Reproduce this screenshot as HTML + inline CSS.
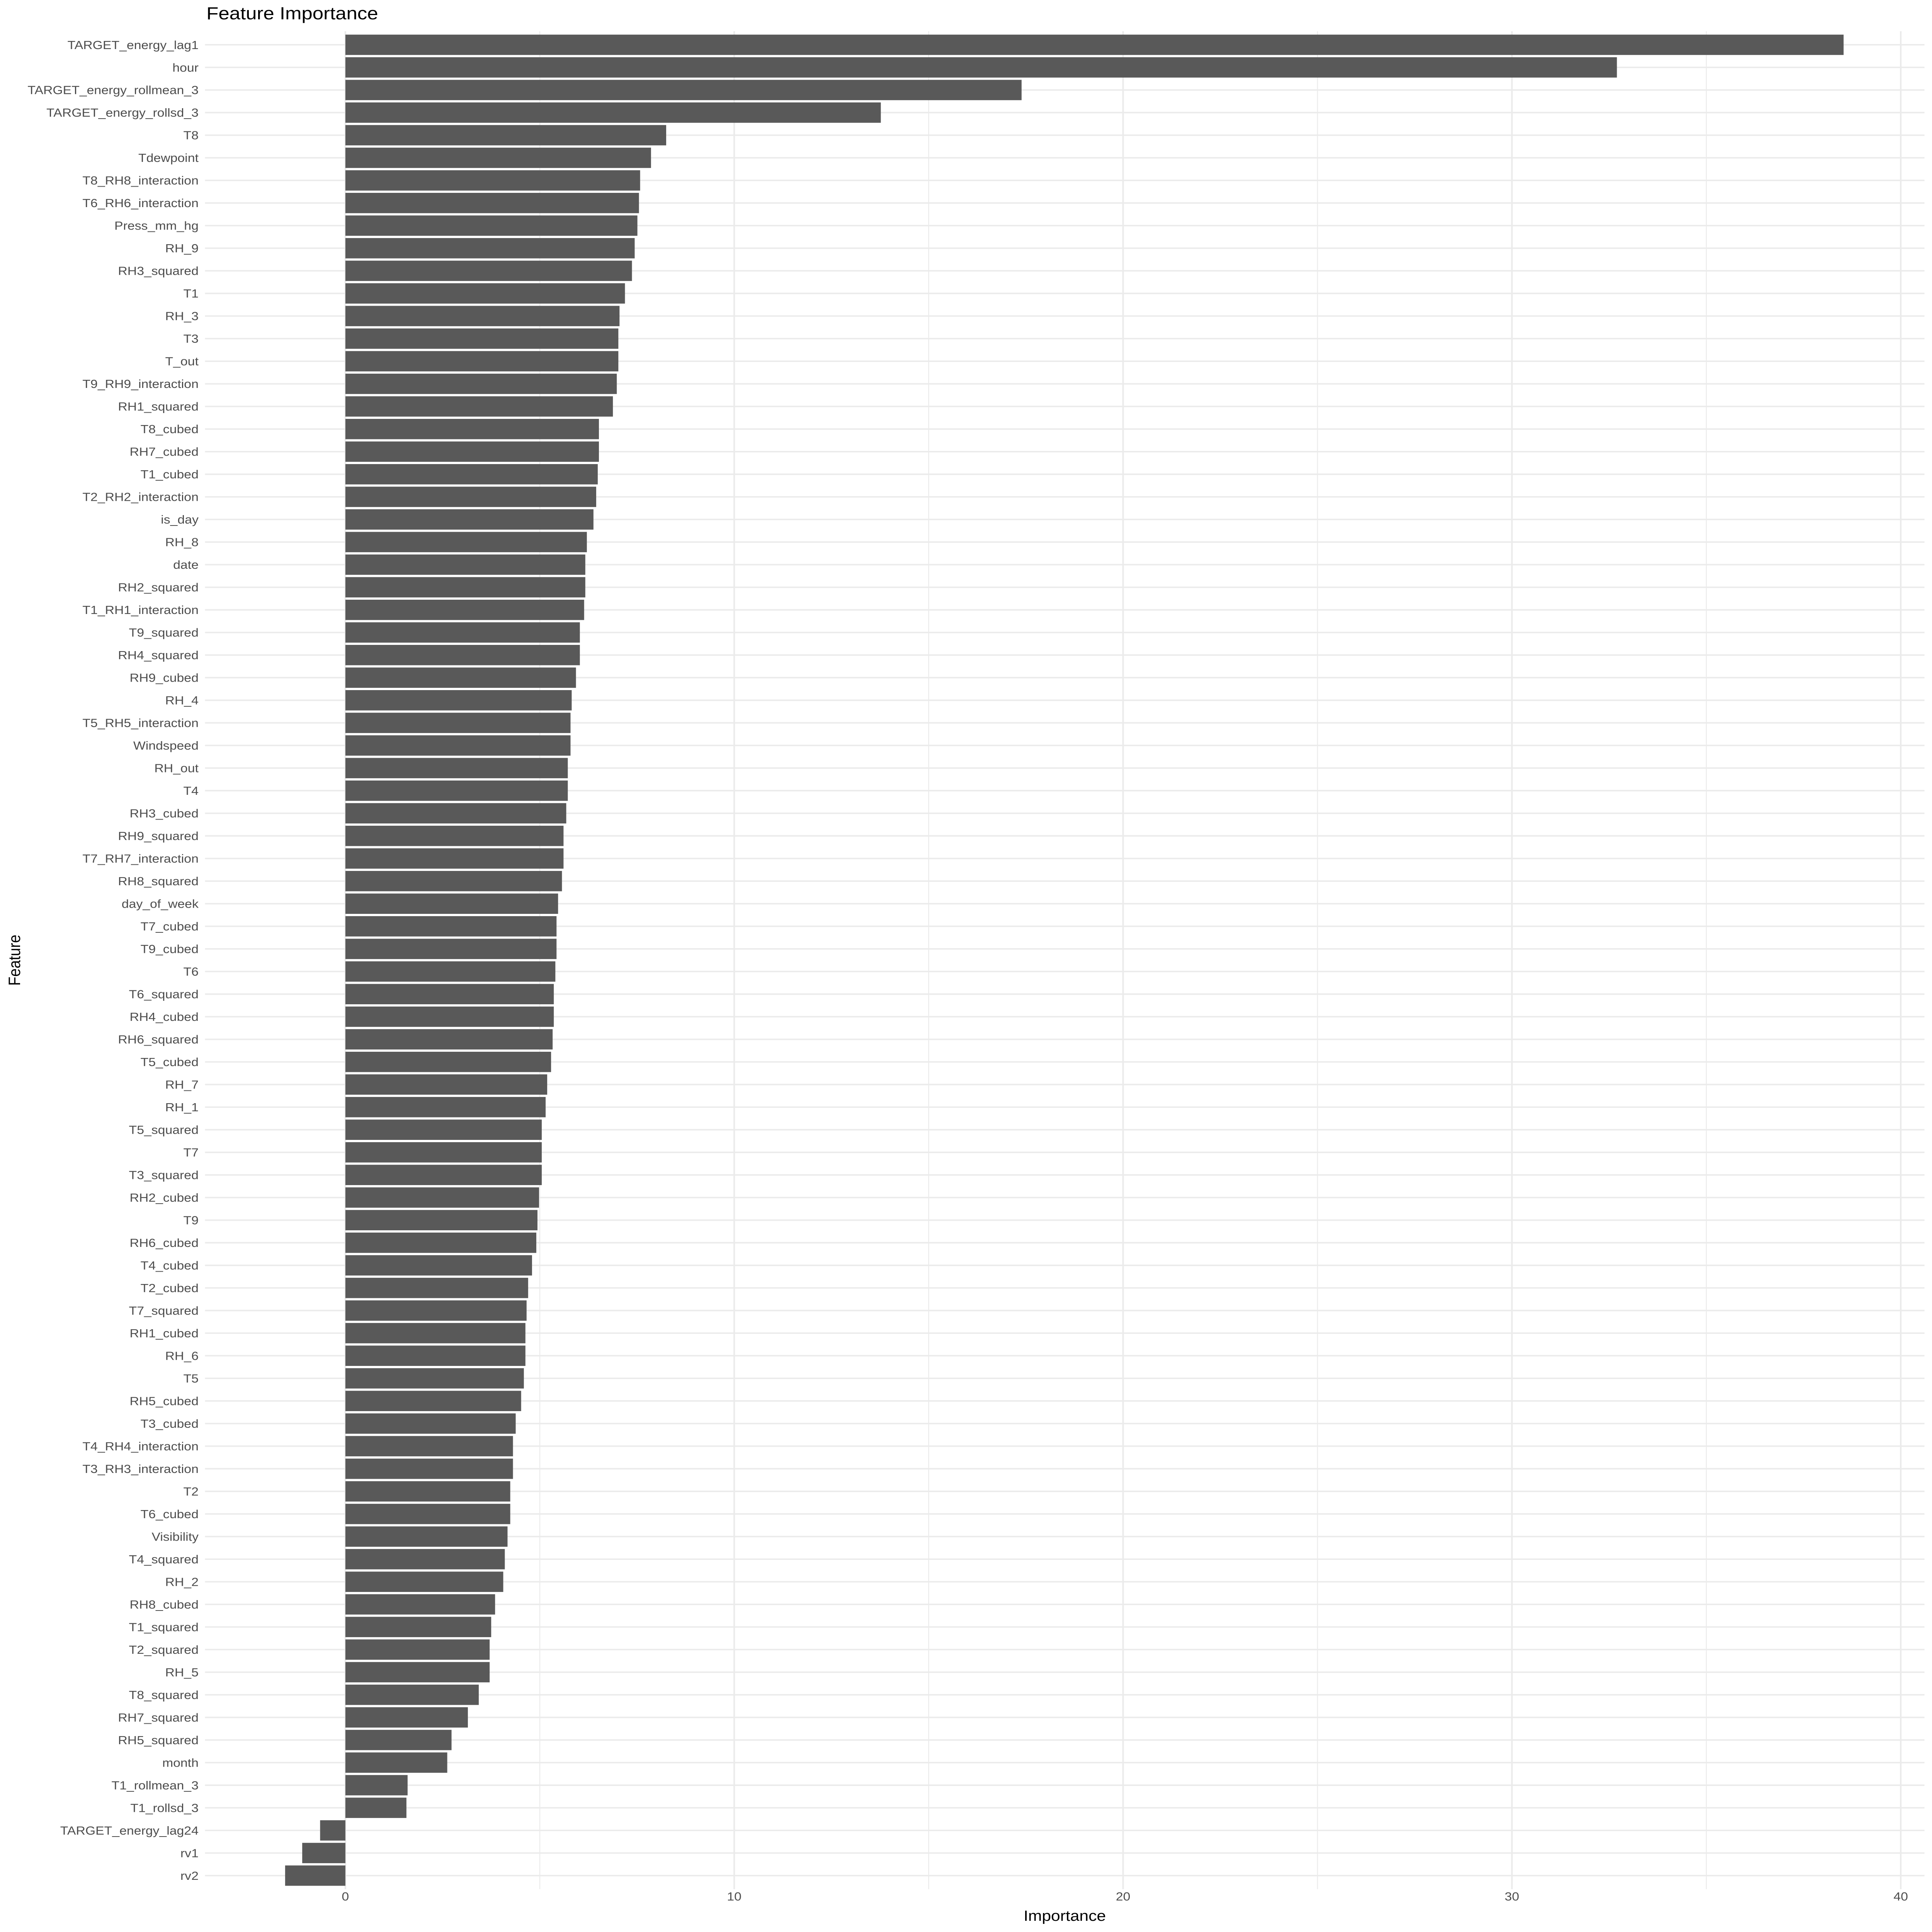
<!DOCTYPE html>
<html><head><meta charset="utf-8"><style>
html,body{margin:0;padding:0;background:#fff;width:100%;height:100%;overflow:hidden;}
svg{display:block;font-family:"Liberation Sans",sans-serif;position:absolute;left:0;top:0;width:100vw;height:100vh;}
</style></head><body>
<svg id="chart" viewBox="0 0 5400 6000" preserveAspectRatio="none" xmlns="http://www.w3.org/2000/svg" overflow="hidden">
<rect width="5400" height="6000" fill="#fff"/>
<g id="grid"></g>
<g id="bars"></g>
<g id="ylabels"></g>
<g id="xlabels"></g>
<text x="577" y="60" font-size="55" fill="#000">Feature Importance</text>
<text x="2976" y="5965" font-size="46" fill="#000" text-anchor="middle">Importance</text>
<text x="0" y="0" font-size="46" fill="#000" text-anchor="middle" transform="translate(56,2982) rotate(-90)">Feature</text>
</svg>
<script>
const features = ["TARGET_energy_lag1","hour","TARGET_energy_rollmean_3","TARGET_energy_rollsd_3","T8","Tdewpoint","T8_RH8_interaction","T6_RH6_interaction","Press_mm_hg","RH_9","RH3_squared","T1","RH_3","T3","T_out","T9_RH9_interaction","RH1_squared","T8_cubed","RH7_cubed","T1_cubed","T2_RH2_interaction","is_day","RH_8","date","RH2_squared","T1_RH1_interaction","T9_squared","RH4_squared","RH9_cubed","RH_4","T5_RH5_interaction","Windspeed","RH_out","T4","RH3_cubed","RH9_squared","T7_RH7_interaction","RH8_squared","day_of_week","T7_cubed","T9_cubed","T6","T6_squared","RH4_cubed","RH6_squared","T5_cubed","RH_7","RH_1","T5_squared","T7","T3_squared","RH2_cubed","T9","RH6_cubed","T4_cubed","T2_cubed","T7_squared","RH1_cubed","RH_6","T5","RH5_cubed","T3_cubed","T4_RH4_interaction","T3_RH3_interaction","T2","T6_cubed","Visibility","T4_squared","RH_2","RH8_cubed","T1_squared","T2_squared","RH_5","T8_squared","RH7_squared","RH5_squared","month","T1_rollmean_3","T1_rollsd_3","TARGET_energy_lag24","rv1","rv2"];
const importance = [38.53,32.7,17.39,13.77,8.25,7.86,7.58,7.55,7.51,7.44,7.37,7.19,7.05,7.02,7.02,6.98,6.88,6.52,6.52,6.49,6.45,6.38,6.21,6.17,6.17,6.14,6.03,6.03,5.93,5.82,5.79,5.79,5.72,5.72,5.68,5.61,5.61,5.57,5.47,5.43,5.43,5.40,5.36,5.36,5.33,5.29,5.19,5.15,5.05,5.05,5.05,4.98,4.94,4.91,4.80,4.70,4.66,4.63,4.63,4.59,4.52,4.38,4.31,4.31,4.24,4.24,4.17,4.10,4.06,3.85,3.75,3.71,3.71,3.43,3.15,2.73,2.62,1.60,1.57,-0.65,-1.11,-1.55];
const xTicks = [0,10,20,30,40];
const xMinor = [5,15,25,35];

const NS = "http://www.w3.org/2000/svg";
const panel = {left:573, right:5379, top:97, bottom:5867};
const xMin = -3.61, xMax = 40.61;
function xs(v){ return panel.left + (v - xMin) / (xMax - xMin) * (panel.right - panel.left); }
const rowH = (panel.bottom - panel.top) / (features.length - 1 + 1.2);
function ys(i){ return panel.top + rowH * 0.6 + i * rowH; }
function mk(tag, attrs, parent){ const e = document.createElementNS(NS, tag); for (const k in attrs) e.setAttribute(k, attrs[k]); parent.appendChild(e); return e; }

const grid = document.getElementById('grid');
xMinor.forEach(v => {
  const l = mk('line', {x1:xs(v), x2:xs(v), y1:panel.top, y2:panel.bottom, stroke:'#ebebeb', 'stroke-width':2.5}, grid);
  
  
});
xTicks.forEach(v => {
  const l = mk('line', {x1:xs(v), x2:xs(v), y1:panel.top, y2:panel.bottom, stroke:'#ebebeb', 'stroke-width':4.5}, grid);
  
  
});
features.forEach((f, i) => {
  const l = mk('line', {x1:panel.left, x2:panel.right, y1:ys(i), y2:ys(i), stroke:'#ebebeb', 'stroke-width':4.5}, grid);
  
  
});

const bars = document.getElementById('bars');
const bh = rowH * 0.9;
importance.forEach((v, i) => {
  const x0 = xs(Math.min(0, v)), x1 = xs(Math.max(0, v));
  const r = mk('rect', {x:x0, y:ys(i) - bh/2, width:x1 - x0, height:bh, fill:'#595959'}, bars);
  
  
});

const yl = document.getElementById('ylabels');
features.forEach((f, i) => {
  const t = mk('text', {x:555, y:ys(i) + 13, 'font-size':36.5, fill:'#4d4d4d', 'text-anchor':'end'}, yl);
  t.textContent = f;
  
  
});
const xl = document.getElementById('xlabels');
xTicks.forEach(v => {
  const t = mk('text', {x:xs(v), y:5902, 'font-size':36.5, fill:'#4d4d4d', 'text-anchor':'middle'}, xl);
  t.textContent = String(v);
  
  
});
</script>
</body></html>
